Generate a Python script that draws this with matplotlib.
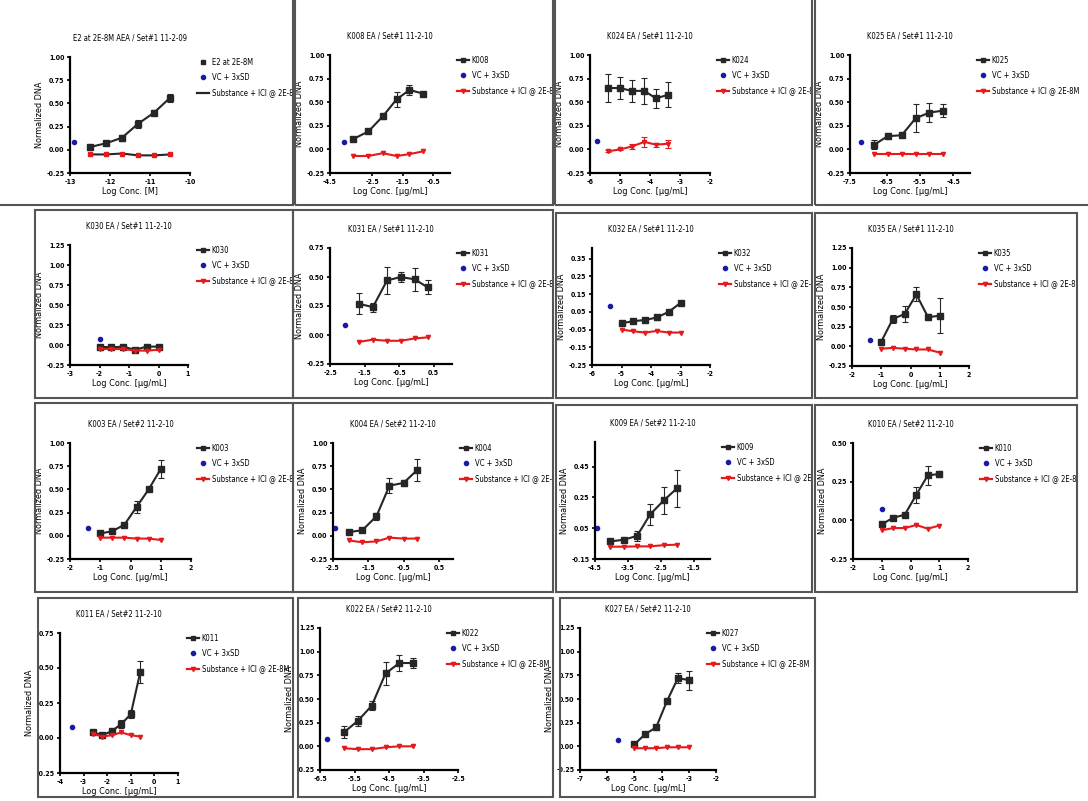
import matplotlib
matplotlib.use("Agg")
import matplotlib.pyplot as plt
from matplotlib.lines import Line2D
from matplotlib.patches import Rectangle
from matplotlib.transforms import Bbox, TransformedBbox

plt.rcParams['font.family'] = ['Liberation Sans Narrow', 'DejaVu Sans']
plt.rcParams['font.stretch'] = 'condensed'
plt.rcParams['font.weight'] = 'bold'

W, H = 1088, 801

# ---- data ----
e2_x = [-12.5, -12.1, -11.7, -11.3, -10.9, -10.5]
e2_y = [0.03, 0.07, 0.13, 0.28, 0.40, 0.56]
e2_err = [0.02, 0.02, 0.03, 0.04, 0.03, 0.04]
e2_ici = [-0.05, -0.05, -0.04, -0.06, -0.06, -0.05]

k008_x = [-3.11, -2.62, -2.15, -1.70, -1.28, -0.83]
k008_y = [0.11, 0.19, 0.35, 0.53, 0.63, 0.59]
k008_err = [0.01, 0.01, 0.03, 0.08, 0.05, 0.01]
k008_ici = [-0.07, -0.07, -0.04, -0.07, -0.05, -0.02]

k024_x = [-5.39, -5.0, -4.61, -4.19, -3.8, -3.39]
k024_y = [0.65, 0.65, 0.62, 0.62, 0.54, 0.58]
k024_err = [0.15, 0.12, 0.12, 0.14, 0.10, 0.13]
k024_ici = [-0.02, 0.0, 0.03, 0.08, 0.05, 0.06]
k024_ici_err = [0.01, 0.01, 0.03, 0.05, 0.02, 0.04]

k025_x = [-6.87, -6.47, -6.05, -5.63, -5.22, -4.82]
k025_y = [0.05, 0.14, 0.15, 0.33, 0.39, 0.41]
k025_err = [0.05, 0.03, 0.01, 0.15, 0.10, 0.07]
k025_ici = [-0.05, -0.05, -0.05, -0.05, -0.05, -0.05]

k030_x = [-2.0, -1.6, -1.2, -0.8, -0.4, 0.0]
k030_y = [-0.02, -0.03, -0.02, -0.06, -0.02, -0.02]
k030_ici = [-0.05, -0.05, -0.05, -0.07, -0.07, -0.06]

k031_x = [-1.67, -1.26, -0.85, -0.46, -0.05, 0.33]
k031_y = [0.27, 0.24, 0.47, 0.50, 0.48, 0.41]
k031_err = [0.09, 0.04, 0.12, 0.04, 0.10, 0.06]
k031_ici = [-0.06, -0.04, -0.05, -0.05, -0.03, -0.02]

k032_x = [-5.0, -4.6, -4.2, -3.8, -3.4, -3.0]
k032_y = [-0.014, -0.003, 0.004, 0.018, 0.05, 0.10]
k032_err = [0.005, 0.005, 0.005, 0.015, 0.008, 0.012]
k032_ici = [-0.05, -0.06, -0.067, -0.058, -0.067, -0.067]

k035_x = [-1.0, -0.6, -0.2, 0.2, 0.6, 1.0]
k035_y = [0.06, 0.35, 0.41, 0.66, 0.37, 0.39]
k035_err = [0.02, 0.05, 0.10, 0.09, 0.04, 0.22]
k035_ici = [-0.03, -0.02, -0.03, -0.04, -0.04, -0.08]

k003_x = [-1.0, -0.6, -0.2, 0.2, 0.6, 1.0]
k003_y = [0.025, 0.05, 0.12, 0.31, 0.50, 0.72]
k003_err = [0.01, 0.01, 0.01, 0.06, 0.02, 0.10]
k003_ici = [-0.02, -0.02, -0.02, -0.03, -0.03, -0.045]

k004_x = [-2.05, -1.67, -1.27, -0.90, -0.50, -0.11]
k004_y = [0.04, 0.06, 0.21, 0.54, 0.57, 0.71]
k004_err = [0.02, 0.01, 0.04, 0.08, 0.03, 0.12]
k004_ici = [-0.05, -0.07, -0.06, -0.02, -0.03, -0.03]

k009_x = [-4.04, -3.63, -3.22, -2.82, -2.41, -2.0]
k009_y = [-0.036, -0.025, 0.0, 0.14, 0.23, 0.31]
k009_err = [0.01, 0.01, 0.03, 0.07, 0.09, 0.12]
k009_ici = [-0.07, -0.07, -0.068, -0.068, -0.06, -0.057]

k010_x = [-1.0, -0.6, -0.2, 0.2, 0.6, 1.0]
k010_y = [-0.026, 0.017, 0.036, 0.165, 0.29, 0.30]
k010_err = [0.01, 0.01, 0.005, 0.05, 0.06, 0.02]
k010_ici = [-0.064, -0.05, -0.05, -0.03, -0.054, -0.034]

k011_x = [-2.6, -2.2, -1.8, -1.4, -1.0, -0.6]
k011_y = [0.04, 0.02, 0.05, 0.10, 0.17, 0.47]
k011_err = [0.01, 0.01, 0.01, 0.03, 0.03, 0.08]
k011_ici = [0.03, 0.01, 0.02, 0.04, 0.02, 0.01]

k022_x = [-5.8, -5.4, -5.0, -4.6, -4.2, -3.8]
k022_y = [0.15, 0.27, 0.43, 0.77, 0.88, 0.88]
k022_err = [0.06, 0.05, 0.05, 0.12, 0.08, 0.05]
k022_ici = [-0.02, -0.03, -0.03, -0.01, 0.0, 0.0]

k027_x = [-5.0, -4.6, -4.2, -3.8, -3.4, -3.0]
k027_y = [0.02, 0.13, 0.20, 0.48, 0.72, 0.70]
k027_err = [0.02, 0.02, 0.03, 0.02, 0.05, 0.10]
k027_ici = [-0.02, -0.02, -0.02, -0.01, -0.01, -0.01]

BLACK = '#262626'
RED = '#e41a1c'
BLUE = '#1a1aa6'

fig = plt.figure(figsize=(W / 100, H / 100), dpi=100)

# panel frames (montage boxes)
frames = [
    (-5, -5, 293, 205), (295, -5, 553, 205), (555, -5, 812, 205), (815, -5, 1095, 205),
    (35, 210, 293, 398), (293, 210, 553, 398), (556, 213, 812, 398), (815, 213, 1077, 398),
    (35, 403, 293, 592), (293, 403, 553, 592), (556, 405, 812, 592), (815, 405, 1077, 592),
    (38, 598, 293, 797), (298, 598, 553, 797), (560, 598, 815, 797),
]
for x0, y0, x1, y1 in frames:
    fig.add_artist(Rectangle((x0 / W, 1 - y1 / H), (x1 - x0) / W, (y1 - y0) / H,
                             transform=fig.transFigure, fill=False,
                             edgecolor='#555555', lw=1.5))


def panel(box, frame, title, name, x, y, err, ici, vc, xlim, xticks, xlabels, ylim,
          yticks, xlab='Log Conc. [µg/mL]', ici_err=None, e2=False):
    x0, y0, x1, y1 = box
    ax = fig.add_axes([x0 / W, 1 - y1 / H, (x1 - x0) / W, (y1 - y0) / H])
    ax.errorbar(x, y, yerr=err, color=BLACK, lw=1.5, marker='s', ms=4,
                capsize=2, elinewidth=0.8, capthick=0.8)
    ax.errorbar(x, ici, yerr=ici_err, color=BLACK if e2 else RED, lw=1.5,
                marker='v' if not e2 else 's', mfc=RED, mec=RED, ms=3,
                capsize=2, elinewidth=0.8, capthick=0.8, ecolor=RED)
    ax.plot([vc[0]], [vc[1]], 'o', color=BLUE, ms=3)
    ax.set_xlim(xlim)
    ax.set_ylim(ylim)
    ax.set_xticks(xticks, xlabels)
    ax.set_yticks(yticks, [f'{t:.2f}' for t in yticks])
    for s in ('top', 'right'):
        ax.spines[s].set_visible(False)
    for s in ('left', 'bottom'):
        ax.spines[s].set_linewidth(1.6)
    ax.tick_params(labelsize=5, length=2.5, width=1.2, pad=1.5)
    ax.set_xlabel(xlab, fontsize=6.5, labelpad=2, fontweight='normal')
    ax.set_ylabel('Normalized DNA', fontsize=6.5, labelpad=2)
    fig.text((x0 + x1) / 2 / W, 1 - (y0 - 19) / H, title, ha='center', va='center',
             fontsize=5.5, fontweight='normal')
    if e2:
        h1 = Line2D([], [], color=BLACK, marker='s', ls='none', ms=3.5)
        h3 = Line2D([], [], color=BLACK, lw=1.6)
    else:
        h1 = Line2D([], [], color=BLACK, marker='s', lw=1.6, ms=3.5)
        h3 = Line2D([], [], color=RED, marker='v', lw=1.6, ms=3)
    h2 = Line2D([], [], color=BLUE, marker='o', ls='none', ms=3)
    leg = ax.legend([h1, h2, h3], [name, 'VC + 3xSD', 'Substance + ICI @ 2E-8M'],
                    loc='upper left', bbox_to_anchor=((x0 + 127) / W, 1 - (y0 + 1) / H),
                    bbox_transform=fig.transFigure, frameon=False,
                    prop={'size': 5.5, 'weight': 'normal'},
                    handlelength=1.6, handletextpad=0.3, labelspacing=0.8,
                    borderpad=0, borderaxespad=0)
    fx0, fy0, fx1, fy1 = frame
    clip = TransformedBbox(Bbox([[fx0 / W, 1 - fy1 / H], [fx1 / W, 1 - fy0 / H]]),
                           fig.transFigure)
    for t in leg.get_texts():
        t.set_clip_box(clip)
        t.set_clip_on(True)
    return ax


y4 = [1.0, 0.75, 0.5, 0.25, 0.0, -0.25]
y5 = [1.25, 1.0, 0.75, 0.5, 0.25, 0.0, -0.25]

panel((70, 57, 190, 173), frames[0], 'E2 at 2E-8M AEA / Set#1 11-2-09', 'E2 at 2E-8M',
      e2_x, e2_y, e2_err, e2_ici, (-12.9, 0.08), (-13, -10), [-13, -12, -11, -10],
      ['-13', '-12', '-11', '-10'], (-0.25, 1.0), y4, xlab='Log Conc. [M]', e2=True)
panel((330, 55, 450, 173), frames[1], 'K008 EA / Set#1 11-2-10', 'K008',
      k008_x, k008_y, k008_err, k008_ici, (-3.4, 0.08), (-3.87, 0.04),
      [-3.87, -2.5, -1.5, -0.5], ['-4.5', '-2.5', '-1.5', '-0.5'], (-0.25, 1.0), y4)
panel((590, 55, 710, 173), frames[2], 'K024 EA / Set#1 11-2-10', 'K024',
      k024_x, k024_y, k024_err, k024_ici, (-5.78, 0.09), (-6, -2),
      [-6, -5, -4, -3, -2], ['-6', '-5', '-4', '-3', '-2'], (-0.25, 1.0), y4,
      ici_err=k024_ici_err)
panel((850, 55, 970, 173), frames[3], 'K025 EA / Set#1 11-2-10', 'K025',
      k025_x, k025_y, k025_err, k025_ici, (-7.28, 0.08), (-7.6, -4.0),
      [-7.6, -6.5, -5.5, -4.5], ['-7.5', '-6.5', '-5.5', '-4.5'], (-0.25, 1.0), y4)

panel((70, 245, 188, 365), frames[4], 'K030 EA / Set#1 11-2-10', 'K030',
      k030_x, k030_y, None, k030_ici, (-2.0, 0.08), (-3, 1),
      [-3, -2, -1, 0, 1], ['-3', '-2', '-1', '0', '1'], (-0.25, 1.25), y5)
panel((330, 248, 452, 364), frames[5], 'K031 EA / Set#1 11-2-10', 'K031',
      k031_x, k031_y, k031_err, k031_ici, (-2.06, 0.09), (-2.5, 1.03),
      [-2.5, -1.5, -0.5, 0.5], ['-2.5', '-1.5', '-0.5', '0.5'], (-0.25, 0.75),
      [0.75, 0.5, 0.25, 0.0, -0.25])
panel((592, 248, 710, 365), frames[6], 'K032 EA / Set#1 11-2-10', 'K032',
      k032_x, k032_y, k032_err, k032_ici, (-5.39, 0.085), (-6, -2),
      [-6, -5, -4, -3, -2], ['-6', '-5', '-4', '-3', '-2'], (-0.25, 0.41),
      [0.35, 0.25, 0.15, 0.05, -0.05, -0.15, -0.25])
panel((852, 248, 969, 366), frames[7], 'K035 EA / Set#1 11-2-10', 'K035',
      k035_x, k035_y, k035_err, k035_ici, (-1.4, 0.08), (-2, 2),
      [-2, -1, 0, 1, 2], ['-2', '-1', '0', '1', '2'], (-0.25, 1.25), y5)

panel((70, 443, 191, 559), frames[8], 'K003 EA / Set#2 11-2-10', 'K003',
      k003_x, k003_y, k003_err, k003_ici, (-1.4, 0.08), (-2, 2),
      [-2, -1, 0, 1, 2], ['-2', '-1', '0', '1', '2'], (-0.25, 1.0), y4)
panel((333, 443, 453, 559), frames[9], 'K004 EA / Set#2 11-2-10', 'K004',
      k004_x, k004_y, k004_err, k004_ici, (-2.45, 0.08), (-2.5, 0.9),
      [-2.5, -1.5, -0.5, 0.5], ['-2.5', '-1.5', '-0.5', '0.5'], (-0.25, 1.0), y4)
panel((595, 442, 710, 559), frames[10], 'K009 EA / Set#2 11-2-10', 'K009',
      k009_x, k009_y, k009_err, k009_ici, (-4.45, 0.05), (-4.5, -1.0),
      [-4.5, -3.5, -2.5, -1.5], ['-4.5', '-3.5', '-2.5', '-1.5'], (-0.15, 0.61),
      [0.45, 0.25, 0.05, -0.15])
panel((853, 443, 968, 559), frames[11], 'K010 EA / Set#2 11-2-10', 'K010',
      k010_x, k010_y, k010_err, k010_ici, (-1.0, 0.075), (-2, 2),
      [-2, -1, 0, 1, 2], ['-2', '-1', '0', '1', '2'], (-0.25, 0.5),
      [0.5, 0.25, 0.0, -0.25])

panel((60, 633, 178, 773), frames[12], 'K011 EA / Set#2 11-2-10', 'K011',
      k011_x, k011_y, k011_err, k011_ici, (-3.5, 0.08), (-4, 1),
      [-4, -3, -2, -1, 0, 1], ['-4', '-3', '-2', '-1', '0', '1'], (-0.25, 0.75),
      [0.75, 0.5, 0.25, 0.0, -0.25])
panel((320, 628, 458, 770), frames[13], 'K022 EA / Set#2 11-2-10', 'K022',
      k022_x, k022_y, k022_err, k022_ici, (-6.3, 0.08), (-6.5, -2.5),
      [-6.5, -5.5, -4.5, -3.5, -2.5], ['-6.5', '-5.5', '-4.5', '-3.5', '-2.5'],
      (-0.25, 1.25), y5)
panel((580, 628, 716, 770), frames[14], 'K027 EA / Set#2 11-2-10', 'K027',
      k027_x, k027_y, k027_err, k027_ici, (-5.6, 0.07), (-7, -2),
      [-7, -6, -5, -4, -3, -2], ['-7', '-6', '-5', '-4', '-3', '-2'],
      (-0.25, 1.25), y5)

fig.savefig('out.png', dpi=100)
